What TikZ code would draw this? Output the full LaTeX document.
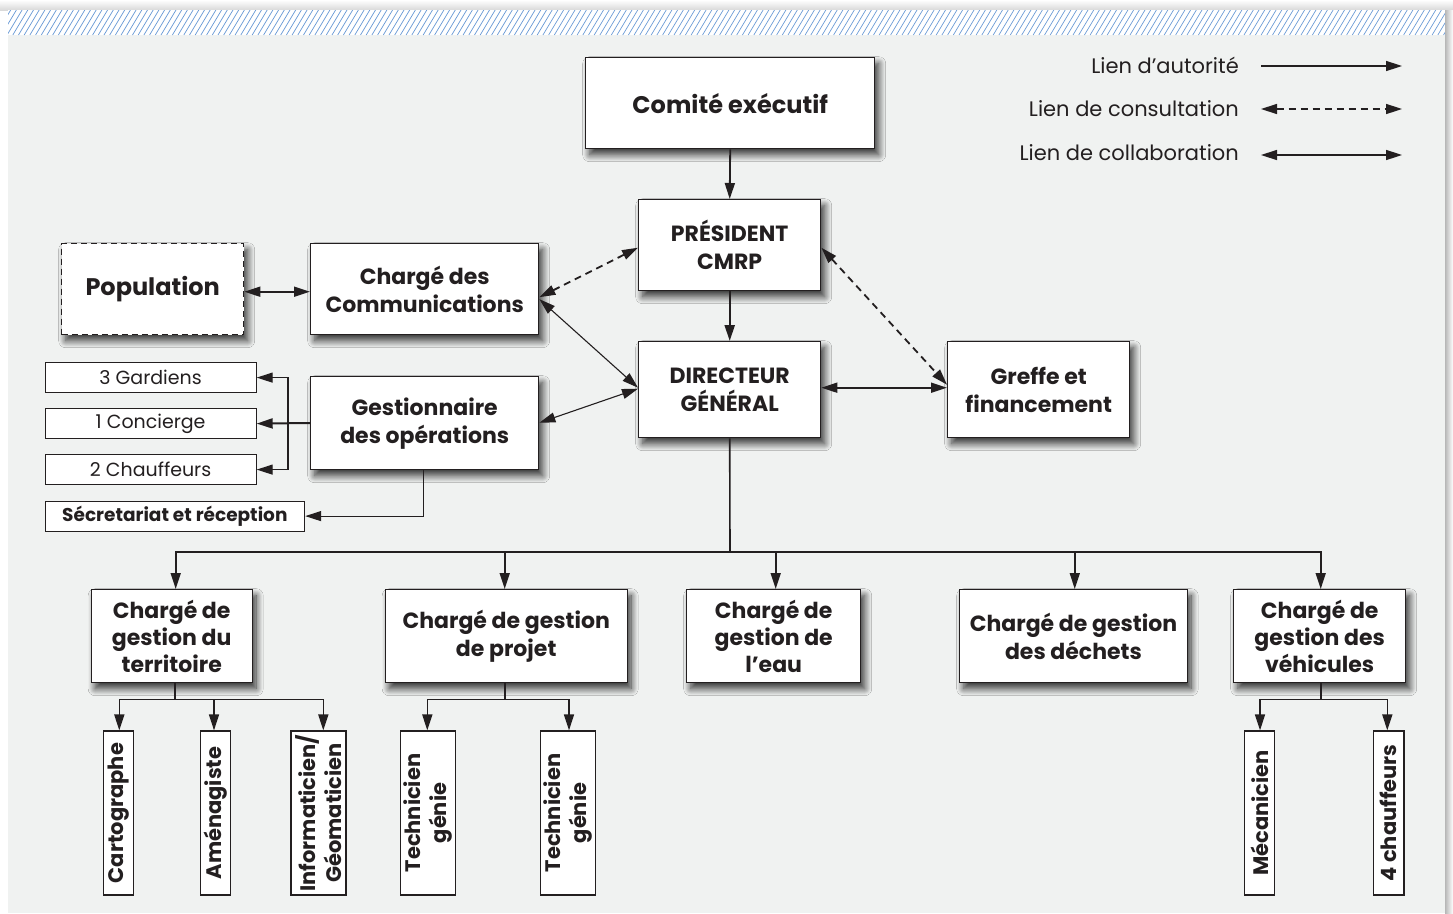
\documentclass[tikz,border=0pt]{standalone}
\usepackage{fontspec}
\setmainfont{Poppins}
\usetikzlibrary{arrows.meta,shadows.blur}
\definecolor{ink}{HTML}{231F20}
\definecolor{panel}{HTML}{F0F2F1}
\definecolor{hatchblue}{HTML}{6B9BD6}
\begin{document}
\begin{tikzpicture}[x=1pt,y=-1pt,
  box/.style={draw=ink, line width=1.4pt, fill=white, text=ink, align=center, inner sep=2pt,
    blur shadow={shadow xshift=4pt, shadow yshift=-6pt, shadow blur radius=7pt, shadow blur steps=14, shadow opacity=80}},
  flatbox/.style={draw=ink, line width=1.2pt, fill=white, text=ink, align=center, inner sep=1pt},
  bigtxt/.style={font=\bfseries\fontsize{22}{28}\selectfont},
  smalltxt/.style={font=\fontsize{19}{22}\selectfont},
  vtxt/.style={font=\bfseries\fontsize{21}{26}\selectfont},
  legtxt/.style={font=\fontsize{21}{24}\selectfont, text=ink, inner sep=0pt},
  tipA/.tip={Triangle[length=16pt,width=10pt]},
  auth/.style={draw=ink, line width=1.8pt, -tipA},
  thinauth/.style={draw=ink, line width=1.2pt, -tipA},
  collab/.style={draw=ink, line width=1.8pt, tipA-tipA},
  thincollab/.style={draw=ink, line width=1.1pt, tipA-tipA},
  consult/.style={draw=ink, line width=1.8pt, dash pattern=on 7pt off 5pt, tipA-tipA},
  plain/.style={draw=ink, line width=1.6pt},
]
\useasboundingbox (0,0) rectangle (1453,913);
% background panel
\fill[white] (0,0) rectangle (1453,913);
\shade[top color=white, bottom color=black!15] (0,0) rectangle (1453,10);
\fill[panel] (8,35) rectangle (1445,913);
\fill[white] (8,10) rectangle (1445,35);
\begin{scope}
  \clip (8,10) rectangle (1445,35);
  \foreach \i in {0,...,258} \draw[hatchblue, line width=0.7pt] ({\i*5.7-10},35) -- ({\i*5.7+5},10);
\end{scope}
\shade[left color=black!28, right color=white] (1445,10) rectangle (1453,913);

% top nodes
\node[box, bigtxt, font=\bfseries\fontsize{24}{28}\selectfont, anchor=north west, minimum width=289pt, minimum height=91pt] (comite) at (585,57) {Comité exécutif};
\node[box, bigtxt, anchor=north west, minimum width=182pt, minimum height=91pt] (pres) at (638,199) {PRÉSIDENT\\CMRP};
\node[box, bigtxt, anchor=north west, minimum width=182pt, minimum height=96pt] (dg) at (638,341) {DIRECTEUR\\GÉNÉRAL};
\node[box, bigtxt, anchor=north west, minimum width=182pt, minimum height=96pt] (greffe) at (947,341) {Greffe et\\financement};
\node[box, dash pattern=on 6pt off 4pt, font=\bfseries\fontsize{24}{28}\selectfont, anchor=north west, minimum width=182pt, minimum height=91pt] (pop) at (61,243) {Population};
\node[box, bigtxt, anchor=north west, minimum width=228pt, minimum height=91pt] (comm) at (310,243) {Chargé des\\Communications};
\node[box, bigtxt, anchor=north west, minimum width=228pt, minimum height=93pt] (gest) at (310,376) {Gestionnaire\\des opérations};

% small left boxes
\node[flatbox, smalltxt, anchor=north west, minimum width=211pt, minimum height=30pt] (gard) at (44.5,362) {3 Gardiens};
\node[flatbox, smalltxt, anchor=north west, minimum width=211pt, minimum height=30pt] (conc) at (44.5,408) {1 Concierge};
\node[flatbox, smalltxt, anchor=north west, minimum width=211pt, minimum height=30pt] (chauf) at (44.5,454) {2 Chauffeurs};
\node[flatbox, font=\bfseries\fontsize{18.5}{22}\selectfont, anchor=north west, minimum width=259.5pt, minimum height=30pt] (secr) at (44.5,500.5) {Sécretariat et réception};

% chargés
\node[box, bigtxt, font=\bfseries\fontsize{22}{27}\selectfont, anchor=north west, minimum width=161pt, minimum height=93pt] (terr) at (90.5,589) {Chargé de\\gestion du\\territoire};
\node[box, bigtxt, anchor=north west, minimum width=242pt, minimum height=93pt] (proj) at (384.5,589) {Chargé de gestion\\de projet};
\node[box, bigtxt, font=\bfseries\fontsize{22}{27}\selectfont, anchor=north west, minimum width=174pt, minimum height=93pt] (eau) at (686,589) {Chargé de\\gestion de\\l’eau};
\node[box, bigtxt, anchor=north west, minimum width=227.5pt, minimum height=93pt] (dech) at (959,589) {Chargé de gestion\\des déchets};
\node[box, bigtxt, font=\bfseries\fontsize{22}{27}\selectfont, anchor=north west, minimum width=172pt, minimum height=93pt] (vehi) at (1233,589) {Chargé de\\gestion des\\véhicules};

% vertical boxes
\node[flatbox, vtxt, rotate=90, minimum width=164pt, minimum height=30pt] (carto) at (118.3,813) {Cartographe};
\node[flatbox, vtxt, rotate=90, minimum width=164pt, minimum height=30pt] (amen) at (215.7,813) {Aménagiste};
\node[flatbox, vtxt, rotate=90, minimum width=164pt, minimum height=55pt] (info) at (318.5,813) {Informaticien/\\Géomaticien};
\node[flatbox, vtxt, rotate=90, minimum width=164pt, minimum height=55pt] (techa) at (428.2,813) {Technicien\\génie};
\node[flatbox, vtxt, rotate=90, minimum width=164pt, minimum height=55pt] (techb) at (568.2,813) {Technicien\\génie};
\node[flatbox, vtxt, rotate=90, minimum width=164pt, minimum height=30.5pt] (meca) at (1259.5,813) {Mécanicien};
\node[flatbox, vtxt, rotate=90, minimum width=164pt, minimum height=30.5pt] (chfr) at (1388.7,813) {4 chauffeurs};

% legend
\node[legtxt, anchor=east] (l1) at (1239,65) {Lien d’autorité};
\node[legtxt, anchor=east] (l2) at (1239,109) {Lien de consultation};
\node[legtxt, anchor=east] (l3) at (1239,153) {Lien de collaboration};
\coordinate (l1a) at (1261,66); \coordinate (l1b) at (1402,66);
\coordinate (l2a) at (1261,109); \coordinate (l2b) at (1402,109);
\coordinate (l3a) at (1261,155); \coordinate (l3b) at (1402,155);
\draw[auth, line width=1.5pt] (l1a) -- (l1b);
\draw[consult, line width=1.5pt] (l2a) -- (l2b);
\draw[collab, line width=1.5pt] (l3a) -- (l3b);

% connectors top
\draw[auth] (comite.south) -- (pres.north);
\draw[auth, line width=2.2pt] (pres.south) -- (dg.north);
\draw[consult] ([yshift=-8pt]comm.east) -- ([yshift=-2.5pt]pres.west);
\draw[consult] ([yshift=-2.5pt]pres.east) -- ([yshift=5pt]greffe.west);
\draw[thincollab] ([yshift=-10pt]comm.east) -- ([yshift=2pt]dg.west);
\draw[thincollab] ([yshift=0.5pt]gest.east) -- ([yshift=1pt]dg.west);
\draw[collab] ([yshift=-2.5pt]pop.east) -- ([yshift=-2.5pt]comm.west);
\draw[collab] ([yshift=2pt]dg.east) -- ([yshift=2pt]greffe.west);

% operations
\coordinate (br) at (288,423);
\draw[auth, line width=2pt] (gest.west |- br) -- (conc.east);
\draw[thinauth] (br) |- (gard.east);
\draw[thinauth] (br) |- (chauf.east);
\draw[thinauth] ([xshift=-1.5pt]gest.south) |- (secr.east);

% main bus
\coordinate (bus) at (730,552);
\draw[plain] (dg.south) -- (bus);
\draw[auth, line width=1.6pt] (bus) -| ([xshift=4pt]terr.north);
\draw[auth, line width=1.6pt] (bus) -| ([xshift=-1.5pt]proj.north);
\draw[auth, line width=1.6pt] (bus) -| ([xshift=2pt]eau.north);
\draw[auth, line width=1.6pt] (bus) -| ([xshift=1.3pt]dech.north);
\draw[auth, line width=1.6pt] (bus) -| ([xshift=1pt]vehi.north);

% sub branches
\draw[plain] ([xshift=3.5pt]terr.south) -- ++(0,16) coordinate (tb);
\draw[auth, line width=1.6pt] (tb) -| ([xshift=1pt]carto.east);
\draw[auth, line width=1.6pt] (tb) -| ([xshift=-1.7pt]amen.east);
\draw[auth, line width=1.6pt] (tb) -| ([xshift=4.8pt]info.east);
\draw[plain] ([xshift=-1.2pt]proj.south) -- ++(0,16) coordinate (pb);
\draw[auth, line width=1.6pt] (pb) -| ([xshift=-0.9pt]techa.east);
\draw[auth, line width=1.6pt] (pb) -| ([xshift=0.8pt]techb.east);
\draw[plain] ([xshift=1pt]vehi.south) -- ++(0,16) coordinate (vb);
\draw[auth, line width=1.6pt] (vb) -| ([xshift=0.5pt]meca.east);
\draw[auth, line width=1.6pt] (vb) -| ([xshift=-1.4pt]chfr.east);
\end{tikzpicture}
\end{document}
